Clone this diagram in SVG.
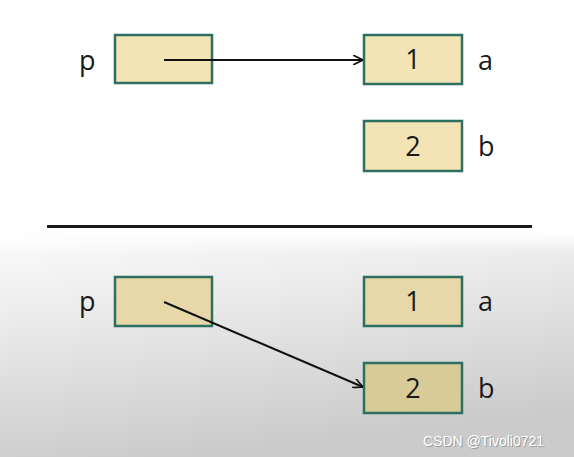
<svg xmlns="http://www.w3.org/2000/svg" width="574" height="457" viewBox="0 0 574 457">
<defs>
<linearGradient id="bg" x1="0" y1="0" x2="0.3" y2="1">
<stop offset="0" stop-color="#fcfcfc"/>
<stop offset="0.35" stop-color="#ececec"/>
<stop offset="1" stop-color="#cbcbcb"/>
</linearGradient>
<linearGradient id="fade" x1="0" y1="0" x2="0" y2="1">
<stop offset="0" stop-color="#ffffff" stop-opacity="1"/>
<stop offset="1" stop-color="#ffffff" stop-opacity="0"/>
</linearGradient>
<marker id="arr" viewBox="0 0 10 10" refX="10" refY="5" markerWidth="10" markerHeight="10" markerUnits="userSpaceOnUse" orient="auto">
<path d="M0,0 L10,5 L0,10" fill="none" stroke="#111" stroke-width="1.6"/>
</marker>
<style>
.box{fill:#f2e4b5;stroke:#2d6f60;stroke-width:2.5}
.boxd{fill:#e6d8a8;stroke:#2d6f60;stroke-width:2.5}
.boxdd{fill:#d9cb98;stroke:#2d6f60;stroke-width:2.5}
.t{font-family:"Open Sans","Liberation Sans",sans-serif;font-size:27px;fill:#1a1a1a}
.c{text-anchor:middle}
.ln{stroke:#111;stroke-width:2;fill:none}
</style>
</defs>
<rect x="0" y="0" width="574" height="457" fill="#ffffff"/>
<rect x="0" y="232" width="574" height="225" fill="url(#bg)"/>
<rect x="0" y="232" width="574" height="20" fill="url(#fade)"/>
<line x1="47" y1="226.5" x2="532" y2="226.5" stroke="#1a1a1a" stroke-width="3"/>

<g id="top-p">
<text class="t" x="79" y="70">p</text>
<rect class="box" x="115" y="35" width="97" height="48"/>
</g>
<g id="top-a">
<rect class="box" x="364" y="35" width="98" height="49"/>
<text class="t c" x="413" y="69">1</text>
<text class="t" x="478" y="70">a</text>
</g>
<g id="top-b">
<rect class="box" x="364" y="121" width="98" height="50"/>
<text class="t c" x="413" y="156">2</text>
<text class="t" x="478" y="156">b</text>
</g>

<g id="bot-p">
<text class="t" x="79" y="311">p</text>
<rect class="boxd" x="115" y="277" width="97" height="49"/>
</g>
<g id="bot-a">
<rect class="boxd" x="364" y="277" width="98" height="49"/>
<text class="t c" x="413" y="311">1</text>
<text class="t" x="478" y="311">a</text>
</g>
<g id="bot-b">
<rect class="boxdd" x="364" y="363" width="98" height="50"/>
<text class="t c" x="413" y="398">2</text>
<text class="t" x="478" y="398">b</text>
</g>

<g id="connectors">
<line class="ln" x1="164" y1="60" x2="363" y2="60" marker-end="url(#arr)"/>
<line class="ln" x1="164" y1="302" x2="363" y2="387" marker-end="url(#arr)"/>
</g>

<text x="424" y="447" font-family="'Liberation Sans',sans-serif" font-size="14" fill="#9a9a9a">CSDN @Tivoli0721</text>
<text x="423" y="446" font-family="'Liberation Sans',sans-serif" font-size="14" fill="#ffffff">CSDN @Tivoli0721</text>
</svg>
